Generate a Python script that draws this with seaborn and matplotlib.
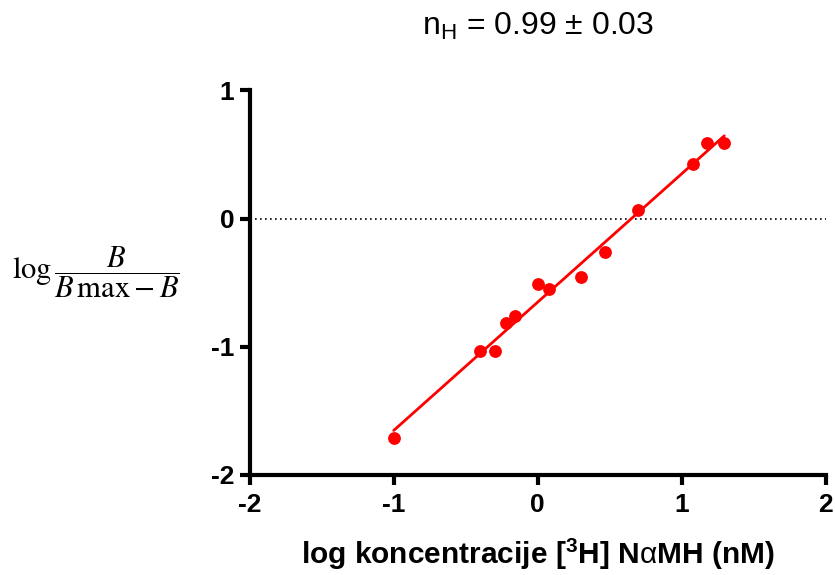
import numpy as np
import pandas as pd
import matplotlib
matplotlib.use("Agg")
import matplotlib.pyplot as plt
import seaborn as sns

# Hill plot data
log_conc = [-1.00, -0.40, -0.30, -0.22, -0.155, 0.00, 0.08, 0.30, 0.47, 0.695, 1.075, 1.175, 1.295]
log_ratio = [-1.71, -1.03, -1.03, -0.815, -0.76, -0.51, -0.55, -0.455, -0.26, 0.065, 0.425, 0.59, 0.585]

x_ticks = [-2, -1, 0, 1, 2]
y_ticks = [-2, -1, 0, 1]
title_text = r"n$_\mathrm{H}$ = 0.99 $\pm$ 0.03"
x_label = r"log koncentracije [$\mathbf{^3}$H] N$\mathrm{\alpha}$MH (nM)"
y_label = r"$\log\dfrac{B}{B\,\max - B}$"

df = pd.DataFrame({"x": log_conc, "y": log_ratio})

sns.set_theme(style="ticks")
plt.rcParams["font.family"] = ["Liberation Sans", "DejaVu Sans"]
plt.rcParams["text.color"] = "black"
plt.rcParams["axes.labelcolor"] = "black"
plt.rcParams["xtick.color"] = "black"
plt.rcParams["ytick.color"] = "black"
plt.rcParams["mathtext.fontset"] = "custom"
plt.rcParams["mathtext.rm"] = "Liberation Sans"
plt.rcParams["mathtext.bf"] = "Liberation Sans:bold"

fig = plt.figure(figsize=(8.35, 5.75), dpi=100)
ax = fig.add_axes([0.299, 0.174, 0.690, 0.669])

ax.axhline(0, color="black", linestyle=(0, (1, 2)), linewidth=1.2, zorder=1)
sns.regplot(data=df, x="x", y="y", ax=ax, ci=None, color="red",
            scatter_kws={"s": 85, "linewidths": 0, "alpha": 1, "zorder": 3},
            line_kws={"linewidth": 2, "zorder": 2})

ax.set_xlim(-2, 2)
ax.set_ylim(-2, 1)
ax.set_xticks(x_ticks)
ax.set_yticks(y_ticks)
ax.set_xticklabels([str(t) for t in x_ticks], fontsize=19, fontweight="bold")
ax.set_yticklabels([str(t) for t in y_ticks], fontsize=19, fontweight="bold")
ax.tick_params(width=3, length=7, color="black")
ax.tick_params(axis="x", pad=6)
ax.tick_params(axis="y", pad=4)
for side in ["top", "right"]:
    ax.spines[side].set_visible(False)
for side in ["left", "bottom"]:
    ax.spines[side].set_linewidth(3)
    ax.spines[side].set_color("black")

ax.set_xlabel(x_label, fontsize=21.5, fontweight="bold", labelpad=14)
ax.set_ylabel("")
ax.set_title(title_text, fontsize=23, pad=40)

fig.text(0.115, 0.527, y_label, fontsize=22, ha="center", va="center",
         math_fontfamily="stix")

fig.savefig("out.png", dpi=100)
